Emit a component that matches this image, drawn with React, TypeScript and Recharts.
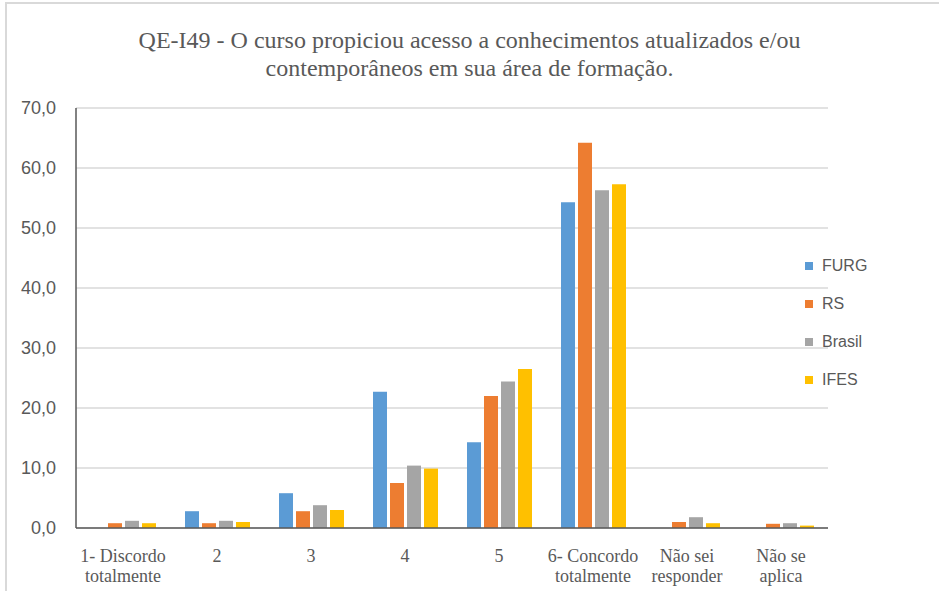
import React from 'react';
import { BarChart, Bar, XAxis, YAxis, CartesianGrid } from 'recharts';

const categories = [
  '1- Discordo\ntotalmente',
  '2',
  '3',
  '4',
  '5',
  '6- Concordo\ntotalmente',
  'Não sei\nresponder',
  'Não se\naplica',
];

const furg = [0, 2.8, 5.8, 22.7, 14.3, 54.3, 0, 0];
const rs = [0.8, 0.8, 2.8, 7.5, 22.0, 64.2, 1.0, 0.7];
const brasil = [1.2, 1.2, 3.8, 10.4, 24.4, 56.3, 1.8, 0.8];
const ifes = [0.8, 1.0, 3.0, 9.9, 26.5, 57.3, 0.8, 0.4];

const yTicks = [0, 10, 20, 30, 40, 50, 60, 70];

const series = [
  { key: 'FURG', color: '#5B9BD5' },
  { key: 'RS', color: '#ED7D31' },
  { key: 'Brasil', color: '#A5A5A5' },
  { key: 'IFES', color: '#FFC000' },
];

const data = categories.map((name, i) => ({
  name,
  FURG: furg[i],
  RS: rs[i],
  Brasil: brasil[i],
  IFES: ifes[i],
}));

const CategoryTick = (props: any) => {
  const { x, y, payload } = props;
  const lines = String(payload.value).split('\n');
  return (
    <g transform={`translate(${x},${y})`}>
      {lines.map((line: string, i: number) => (
        <text
          key={i}
          x={0}
          y={26 + i * 20}
          textAnchor="middle"
          fill="#595959"
          fontFamily="'Liberation Serif', serif"
          fontSize={18}
        >
          {line}
        </text>
      ))}
    </g>
  );
};

const App: React.FC = () => {
  return (
    <div style={{ position: 'absolute', left: 0, top: 0, width: 939, height: 591, background: '#fff', overflow: 'hidden' }}>
      <div
        style={{
          position: 'absolute',
          left: 5,
          top: 2,
          right: 0,
          bottom: 0,
          borderLeft: '2px solid #d9d9d9',
          borderTop: '2px solid #d9d9d9',
        }}
      />
      <div
        style={{
          position: 'absolute',
          left: 0,
          width: 939,
          top: 26,
          textAlign: 'center',
          fontFamily: "'Liberation Serif', serif",
          fontSize: 24,
          lineHeight: '28px',
          color: '#595959',
        }}
      >
        QE-I49 - O curso propiciou acesso a conhecimentos atualizados e/ou
        <br />
        contemporâneos em sua área de formação.
      </div>
      <BarChart
        width={939}
        height={591}
        data={data}
        margin={{ top: 108, right: 111, left: 0, bottom: 3 }}
        barCategoryGap={15}
        barGap={3}
      >
        <CartesianGrid vertical={false} stroke="#d9d9d9" strokeWidth={1.5} />
        <XAxis
          dataKey="name"
          interval={0}
          height={60}
          tickLine={false}
          axisLine={{ stroke: '#595959', strokeWidth: 1.5 }}
          tick={<CategoryTick />}
        />
        <YAxis
          width={76}
          domain={[0, 70]}
          ticks={yTicks}
          tickLine={false}
          tickMargin={14}
          axisLine={{ stroke: '#595959', strokeWidth: 1.5 }}
          tick={{ fill: '#595959', fontSize: 18, fontFamily: "'Liberation Sans', sans-serif" }}
          tickFormatter={(v: number) => v.toFixed(1).replace('.', ',')}
        />
        {series.map((s) => (
          <Bar key={s.key} dataKey={s.key} fill={s.color} isAnimationActive={false} />
        ))}
      </BarChart>
      <div style={{ position: 'absolute', left: 805, top: 254 }}>
        {series.map((s) => (
          <div key={s.key} style={{ display: 'flex', alignItems: 'center', height: 24, marginBottom: 14 }}>
            <span style={{ width: 8, height: 8, background: s.color, display: 'inline-block', marginRight: 9 }} />
            <span style={{ fontFamily: "'Liberation Sans', sans-serif", fontSize: 16, color: '#595959' }}>{s.key}</span>
          </div>
        ))}
      </div>
    </div>
  );
};

export default App;
